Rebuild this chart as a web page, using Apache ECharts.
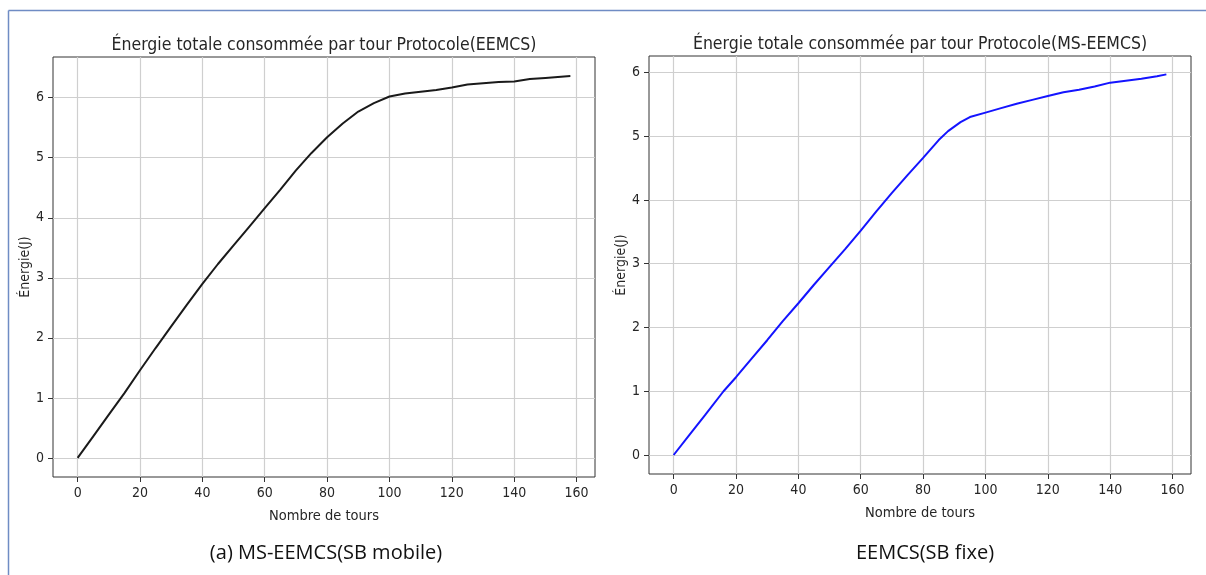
<!DOCTYPE html>
<html>
<head>
<meta charset="utf-8">
<script src="https://cdn.jsdelivr.net/npm/echarts@6/dist/echarts.min.js"></script>
<style>
	html, body { margin: 0; padding: 0; background: #fff; }
	#chart { width: 1206px; height: 575px; }
</style>
</head>
<body>
<div id="chart"></div>
<script>
	// MS-EEMCS (SB mobile) - courbe noire
	var toursA = [0, 5, 10, 15, 20, 25, 30, 35, 40, 45, 50, 55, 60, 65, 70, 75, 80, 85, 90, 95,
		100, 105, 110, 115, 120, 125, 130, 135, 140, 145, 150, 155, 158];
	var energieA = [0, 0.36, 0.72, 1.08, 1.46, 1.83, 2.19, 2.55, 2.90, 3.23, 3.54, 3.85, 4.16, 4.47,
		4.79, 5.08, 5.34, 5.57, 5.77, 5.91, 6.02, 6.07, 6.10, 6.13, 6.17, 6.22, 6.24, 6.26, 6.27,
		6.31, 6.33, 6.35, 6.36];
	// EEMCS (SB fixe) - courbe bleue
	var toursB = [0, 5, 10, 16, 20, 25, 30, 35, 40, 45, 50, 55, 60, 65, 70, 75, 80, 85, 88, 92,
		95, 100, 105, 110, 115, 120, 125, 130, 135, 140, 145, 150, 155, 158];
	var energieB = [0, 0.31, 0.62, 1.0, 1.22, 1.51, 1.80, 2.10, 2.38, 2.67, 2.95, 3.23, 3.52, 3.82,
		4.11, 4.39, 4.66, 4.94, 5.08, 5.22, 5.30, 5.37, 5.44, 5.51, 5.57, 5.63, 5.69, 5.73, 5.78,
		5.84, 5.87, 5.90, 5.94, 5.97];
	var xTicks = [0, 20, 40, 60, 80, 100, 120, 140, 160];
	var yTicks = [0, 1, 2, 3, 4, 5, 6];

	var titres = ['Énergie totale consommée par tour Protocole(EEMCS)',
		'Énergie totale consommée par tour Protocole(MS-EEMCS)'];
	var legendes = ['(a) MS-EEMCS(SB mobile)', 'EEMCS(SB fixe)'];

	var police = "'DejaVu Sans Condensed', 'DejaVu Sans'";
	var texte = '#262626';

	function zip(xs, ys) {
		return xs.map(function(x, i) {
			return [x, ys[i]];
		});
	}

	function axeX(idx) {
		return {
			type: 'value',
			gridIndex: idx,
			min: -7.9,
			max: 165.9,
			name: 'Nombre de tours',
			nameLocation: 'middle',
			nameGap: 32,
			nameTextStyle: { fontFamily: police, fontSize: 14.5, color: texte },
			axisLine: { show: false, onZero: false },
			axisTick: { show: true, length: 5, customValues: xTicks, lineStyle: { color: '#333' } },
			axisLabel: { customValues: xTicks, margin: 9, fontFamily: police, fontSize: 14, color: texte },
			splitLine: { show: true, lineStyle: { color: '#cfcfcf', width: 1.2 } }
		};
	}

	function axeY(idx, min, max) {
		return {
			type: 'value',
			gridIndex: idx,
			min: min,
			max: max,
			name: 'Énergie(J)',
			nameLocation: 'middle',
			nameGap: 21,
			nameRotate: 90,
			nameTextStyle: { fontFamily: police, fontSize: 14, color: texte },
			axisLine: { show: false, onZero: false },
			axisTick: { show: true, length: 5, customValues: yTicks, lineStyle: { color: '#333' } },
			axisLabel: { customValues: yTicks, margin: 9, fontFamily: police, fontSize: 14, color: texte },
			splitLine: { show: true, lineStyle: { color: '#cfcfcf', width: 1.2 } }
		};
	}

	var chart = echarts.init(document.getElementById('chart'));
	chart.setOption({
		animation: false,
		backgroundColor: '#fff',
		title: [{
			text: titres[0], left: 319, top: 31, textAlign: 'center',
			textStyle: { fontFamily: police, fontSize: 17.5, fontWeight: 'normal', color: texte }
		}, {
			text: titres[1], left: 915, top: 30, textAlign: 'center',
			textStyle: { fontFamily: police, fontSize: 17.5, fontWeight: 'normal', color: texte }
		}, {
			text: legendes[0], left: 321, top: 538, textAlign: 'center',
			textStyle: { fontFamily: 'Open Sans', fontSize: 20, fontWeight: 'normal', color: '#111' }
		}, {
			text: legendes[1], left: 920, top: 538, textAlign: 'center',
			textStyle: { fontFamily: 'Open Sans', fontSize: 20, fontWeight: 'normal', color: '#111' }
		}],
		graphic: [{
			type: 'line', shape: { x1: 8.5, y1: 10.5, x2: 1206, y2: 10.5 },
			style: { stroke: '#6f8cc4', lineWidth: 1.5 }
		}, {
			type: 'line', shape: { x1: 8.5, y1: 10.5, x2: 8.5, y2: 575 },
			style: { stroke: '#6f8cc4', lineWidth: 1.5 }
		}],
		grid: [{
			left: 53, top: 57, width: 542, height: 420,
			show: true, borderColor: '#333', borderWidth: 1, backgroundColor: 'transparent'
		}, {
			left: 649, top: 56, width: 542, height: 418,
			show: true, borderColor: '#333', borderWidth: 1, backgroundColor: 'transparent'
		}],
		xAxis: [axeX(0), axeX(1)],
		yAxis: [axeY(0, -0.318, 6.678), axeY(1, -0.298, 6.258)],
		series: [{
			type: 'line',
			xAxisIndex: 0,
			yAxisIndex: 0,
			data: zip(toursA, energieA),
			showSymbol: false,
			lineStyle: { color: '#1a1a1a', width: 2 }
		}, {
			type: 'line',
			xAxisIndex: 1,
			yAxisIndex: 1,
			data: zip(toursB, energieB),
			showSymbol: false,
			lineStyle: { color: '#1414ff', width: 2 }
		}]
	});
</script>
</body>
</html>
